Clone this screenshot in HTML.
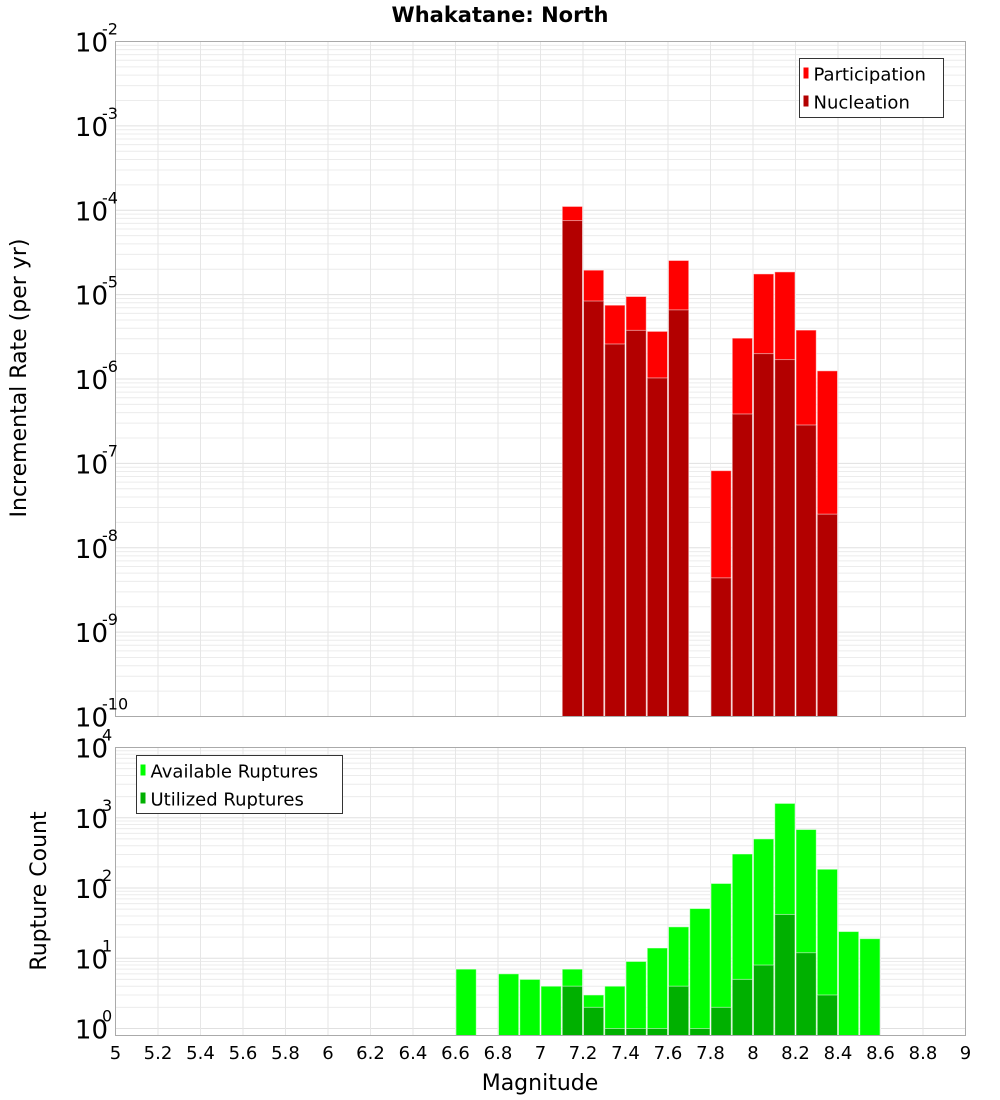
<!DOCTYPE html>
<html><head><meta charset="utf-8"><style>
body{margin:0;background:#fff;}
svg{display:block;font-family:"DejaVu Sans","Liberation Sans",sans-serif;}
</style></head><body>
<svg id="chart" width="1000" height="1100" xmlns="http://www.w3.org/2000/svg">
<text x="500" y="22" text-anchor="middle" font-size="21" font-weight="bold">Whakatane: North</text>
<g id="topPlot"></g>
<g id="botPlot"></g>
<text transform="translate(26,378) rotate(-90)" text-anchor="middle" font-size="22">Incremental Rate (per yr)</text>
<text transform="translate(46,891) rotate(-90)" text-anchor="middle" font-size="22">Rupture Count</text>
<text x="540" y="1090" text-anchor="middle" font-size="22">Magnitude</text>
</svg>
<script>
// Top chart data (bin centers)
const rateMags = [7.15,7.25,7.35,7.45,7.55,7.65,7.85,7.95,8.05,8.15,8.25,8.35];
const participation = [1.11e-4,1.95e-5,7.5e-6,9.5e-6,3.67e-6,2.54e-5,8.2e-8,3.05e-6,1.76e-5,1.86e-5,3.8e-6,1.25e-6];
const nucleation = [7.55e-5,8.4e-6,2.6e-6,3.77e-6,1.03e-6,6.6e-6,4.4e-9,3.85e-7,2.0e-6,1.7e-6,2.85e-7,2.5e-8];
// Bottom chart data
const countMags = [6.65,6.85,6.95,7.05,7.15,7.25,7.35,7.45,7.55,7.65,7.75,7.85,7.95,8.05,8.15,8.25,8.35,8.45,8.55];
const available = [7,6,5,4,7,3,4,9,14,28,51,116,305,500,1600,680,185,24,19];
const utilized = [0,0,0,0,4,2,1,1,1,4,1,2,5,8,42,12,3,0,0];
const xTicks = [5,5.2,5.4,5.6,5.8,6,6.2,6.4,6.6,6.8,7,7.2,7.4,7.6,7.8,8,8.2,8.4,8.6,8.8,9];
const rateExps = [-10,-9,-8,-7,-6,-5,-4,-3,-2];
const countExps = [0,1,2,3,4];

const NS="http://www.w3.org/2000/svg";
const L=115.5,R=965.5;
const xs=m=>L+(m-5)/4*(R-L);
const BW=(R-L)/40;
const T1=41.5,B1=716.5,D1=(B1-T1)/8;
const yTop=v=>B1-(Math.log10(v)+10)*D1;
const T2=747.5,B2=1035.5,Z2=1028.5,D2=70.25;
const yBot=v=>Z2-Math.log10(v)*D2;
function mk(p,tag,a){const e=document.createElementNS(NS,tag);for(const k in a)e.setAttribute(k,a[k]);p.appendChild(e);return e;}

function frame(g,T,B,yf,exps,minV,maxV){
  mk(g,'rect',{x:L,y:T,width:R-L,height:B-T,fill:'#fff'});
  for(const e of exps){for(let k=1;k<10;k++){const v=k*Math.pow(10,e);if(v<minV||v>maxV)continue;const y=yf(v);if(y<T||y>B)continue;
    const l=mk(g,'line',{x1:L,x2:R,y1:y,y2:y,stroke:k==1?'#e0e0e0':'#ececec','stroke-width':1});
    
    }}
  for(const t of xTicks){const l=mk(g,'line',{x1:xs(t),x2:xs(t),y1:T,y2:B,stroke:'#e6e6e6'});
    
    }
}
function ylabels(g,yf,exps){
  for(const e of exps){const y=yf(Math.pow(10,e));
    const t=mk(g,'text',{x:108,y:y+10,'text-anchor':'end','font-size':26});
    
    
    t.textContent='10';
    const s=mk(g,'text',{x:102,y:y-7,'font-size':16});
    
    
    s.textContent=String(e);}
}
function bars(g,mags,vals,yf,base,color,name){
  mags.forEach((m,i)=>{const v=vals[i];if(!(v>0))return;const y=yf(v);
    const r=mk(g,'rect',{x:xs(m)-BW/2+0.5,y:y,width:BW-1,height:base-y,fill:color,stroke:'rgba(255,255,255,0.5)','stroke-width':1});
    
    });
}
function legend(g,x,y,w,h,items){
  const b=mk(g,'rect',{x:x,y:y,width:w,height:h,fill:'#fff',stroke:'#333','stroke-width':1});
  
  
  items.forEach((it,i)=>{const cy=y+15+i*28;
    const s=mk(g,'rect',{x:x+4,y:cy-6,width:5,height:11,fill:it[1]});
    
    
    const t=mk(g,'text',{x:x+14,y:cy+7,'font-size':18});
    
    
    t.textContent=it[0];});
}
const gTop=document.getElementById('topPlot'),gBot=document.getElementById('botPlot');
frame(gTop,T1,B1,yTop,rateExps,1e-10,1e-2);
bars(gTop,rateMags,participation,yTop,B1,'#ff0000','participation-bar');
bars(gTop,rateMags,nucleation,yTop,B1,'#b30000','nucleation-bar');
mk(gTop,'rect',{x:L,y:T1,width:R-L,height:B1-T1,fill:'none',stroke:'#aaa'});
ylabels(gTop,yTop,rateExps);
legend(gTop,799.5,58.5,144,59,[['Participation','#ff0000'],['Nucleation','#b30000']]);

frame(gBot,T2,B2,yBot,countExps,0.9,1e4);
bars(gBot,countMags,available,yBot,B2,'#00ff00','available-bar');
bars(gBot,countMags,utilized,yBot,B2,'#00b000','utilized-bar');
mk(gBot,'rect',{x:L,y:T2,width:R-L,height:B2-T2,fill:'none',stroke:'#aaa'});
ylabels(gBot,yBot,countExps);
legend(gBot,136.5,755.5,206,58,[['Available Ruptures','#00ff00'],['Utilized Ruptures','#00b000']]);
for(const t of xTicks){const e=mk(gBot,'text',{x:xs(t),y:1059,'text-anchor':'middle','font-size':18});
  
  
  e.textContent=String(t);}
</script>
</body></html>
